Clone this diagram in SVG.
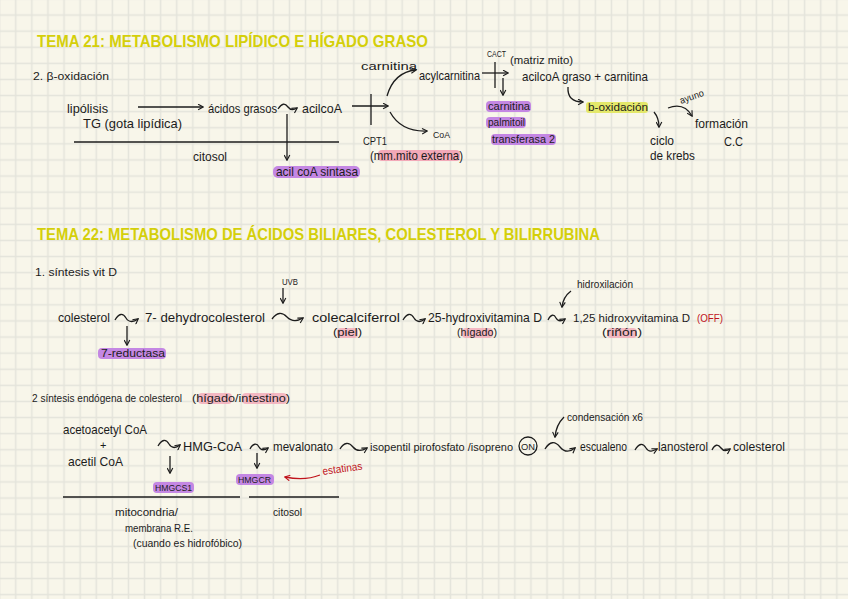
<svg xmlns="http://www.w3.org/2000/svg" width="848" height="599" viewBox="0 0 848 599">
<defs>
<pattern id="grid" x="7.7" y="7" width="16.1" height="16.1" patternUnits="userSpaceOnUse">
<rect x="7.3" y="0" width="1.5" height="16.1" fill="#e4e4db"/>
<rect x="0" y="7.3" width="16.1" height="1.5" fill="#e4e4db"/>
</pattern>
<marker id="ah" viewBox="0 0 10 10" refX="8" refY="5" markerWidth="7" markerHeight="7" markerUnits="userSpaceOnUse" orient="auto">
<path d="M1,1 L8.5,5 L1,9" fill="none" stroke="#1c1c1c" stroke-width="1.6"/>
</marker>
<marker id="ahr" viewBox="0 0 10 10" refX="8" refY="5" markerWidth="7" markerHeight="7" markerUnits="userSpaceOnUse" orient="auto">
<path d="M1,1 L8.5,5 L1,9" fill="none" stroke="#c0141c" stroke-width="1.6"/>
</marker>
</defs>
<style>
.t{font-family:"Liberation Sans",Arial,sans-serif;font-size:13px;fill:#1c1c1c}
.sm{font-size:11px}
.xs{font-size:9.5px}
.red{fill:#c0141c}
.title{font-family:"Liberation Sans",Arial,sans-serif;font-weight:bold;font-size:17px;fill:#d4cf0a}
.hp{fill:#c487e3}
.hk{fill:#f3a9b8}
.hy{fill:#e4e86a}
.ln{stroke:#1c1c1c;stroke-width:1.3;fill:none}
.lr{stroke:#c0141c;stroke-width:1.3;fill:none}
.a{marker-end:url(#ah)}
</style>
<rect width="848" height="599" fill="#f8f6ea"/>
<rect width="848" height="599" fill="url(#grid)"/>

<g id="titles">
<text class="title" x="37" y="47" textLength="391" lengthAdjust="spacingAndGlyphs">TEMA 21: METABOLISMO LIPÍDICO E HÍGADO GRASO</text>
<text class="title" x="37" y="240" textLength="563" lengthAdjust="spacingAndGlyphs">TEMA 22: METABOLISMO DE ÁCIDOS BILIARES, COLESTEROL Y BILIRRUBINA</text>
</g>

<g id="highlights">
<rect class="hp" x="273" y="166" width="87" height="12" rx="5"/>
<rect class="hk" x="378" y="150" width="82" height="11" rx="4"/>
<rect class="hp" x="486" y="101" width="45" height="11" rx="4"/>
<rect class="hp" x="486" y="117" width="40" height="11" rx="4"/>
<rect class="hp" x="491" y="134" width="65" height="11" rx="4"/>
<rect class="hy" x="586" y="102" width="62" height="11" rx="3"/>
<rect class="hp" x="98" y="348" width="68" height="11" rx="4"/>
<rect class="hk" x="337" y="328" width="21" height="10" rx="4" opacity="0.8"/>
<rect class="hk" x="462" y="328" width="31" height="10" rx="4" opacity="0.8"/>
<rect class="hk" x="607" y="328" width="30" height="10" rx="4" opacity="0.8"/>
<rect class="hk" x="198" y="393" width="34" height="11" rx="4" opacity="0.8"/>
<rect class="hk" x="242" y="393" width="45" height="11" rx="4" opacity="0.8"/>
<rect class="hp" x="153" y="482" width="41" height="11" rx="4"/>
<rect class="hp" x="236" y="474" width="38" height="11" rx="4"/>
</g>

<g id="connectors">
<path class="ln a" d="M138,107 L203,107"/>
<path class="ln a" d="M278,109 C282,103 285,103 288,107 S294,110 297,108"/>
<path class="ln a" d="M287,114 L287,160"/>
<path class="ln" d="M74,142 L339,142"/>
<path class="ln a" d="M352,106 L388,106"/>
<path class="ln" d="M371,94 L371,125"/>
<path class="ln a" d="M387,96 Q394,72 416,70"/>
<path class="ln a" d="M390,112 Q401,132 427,131"/>
<path class="ln a" d="M482,73 L508,73"/>
<path class="ln" d="M495,62 L495,88"/>
<path class="ln a" d="M503,78 L503,95"/>
<path class="ln a" d="M568,87 Q567,102 583,102"/>
<path class="ln a" d="M654,112 Q659,118 659,127"/>
<path class="ln a" d="M668,108 Q684,102 692,116"/>
<path class="ln a" d="M283,288 L283,303"/>
<path class="ln a" d="M115,320 C119,313 123,313 126,318 S134,322 138,319"/>
<path class="ln a" d="M127,326 L127,345"/>
<path class="ln a" d="M272,319 C277,312 282,312 287,317 S298,321 303,318"/>
<path class="ln a" d="M403,320 C407,313 411,313 414,318 S421,322 425,319"/>
<path class="ln a" d="M548,320 C551,314 554,314 556,318 S562,321 565,319"/>
<path class="ln a" d="M571,291 Q563,297 562,307"/>
<path class="ln a" d="M158,446 C162,439 166,439 169,444 S176,448 180,445"/>
<path class="ln a" d="M170,456 L170,473"/>
<path class="ln a" d="M250,449 C253,443 257,443 259,447 S265,450 268,448"/>
<path class="ln a" d="M257,453 L257,468"/>
<path class="lr" d="M320,475 Q305,481 285,477" marker-end="url(#ahr)"/>
<path class="ln a" d="M340,449 C344,442 349,442 353,447 S362,451 367,448"/>
<path class="ln a" d="M564,417 Q556,425 555,437"/>
<path class="ln a" d="M545,449 C550,441 555,441 560,447 S570,452 575,448"/>
<path class="ln a" d="M635,450 C639,443 643,443 646,448 S653,451 657,449"/>
<path class="ln a" d="M712,450 C715,444 718,444 721,448 S727,451 730,449"/>
<path class="ln" d="M63,497 L240,497"/>
<path class="ln" d="M249,497 L339,497"/>
<circle class="ln" cx="528" cy="446" r="9"/>
</g>

<g id="beta-oxidacion">
<text class="t sm" x="33" y="80" textLength="76" lengthAdjust="spacingAndGlyphs">2. β-oxidación</text>
<text class="t" x="67" y="113" textLength="41" lengthAdjust="spacingAndGlyphs">lipólisis</text>
<text class="t" x="83" y="128" textLength="99" lengthAdjust="spacingAndGlyphs">TG (gota lipídica)</text>
<text class="t" x="208" y="113" textLength="69" lengthAdjust="spacingAndGlyphs">ácidos grasos</text>
<text class="t" x="302" y="113" textLength="40" lengthAdjust="spacingAndGlyphs">acilcoA</text>
<text class="t" x="193" y="161" textLength="34" lengthAdjust="spacingAndGlyphs">citosol</text>
<text class="t" x="276" y="176" textLength="82" lengthAdjust="spacingAndGlyphs">acil coA sintasa</text>
<text class="t sm" x="363" y="145" textLength="24" lengthAdjust="spacingAndGlyphs">CPT1</text>
<text class="t" x="370" y="160" textLength="93" lengthAdjust="spacingAndGlyphs">(mm.mito externa)</text>
<text class="t sm" x="361" y="70" textLength="56" lengthAdjust="spacingAndGlyphs">carnitina</text>
<text class="t" x="419" y="80" textLength="61" lengthAdjust="spacingAndGlyphs">acylcarnitina</text>
<text class="t xs" x="433" y="138" textLength="17" lengthAdjust="spacingAndGlyphs">CoA</text>
<text class="t xs" x="487" y="57" textLength="19" lengthAdjust="spacingAndGlyphs">CACT</text>
<text class="t sm" x="510" y="64" textLength="63" lengthAdjust="spacingAndGlyphs">(matriz mito)</text>
<text class="t" x="522" y="81" textLength="126" lengthAdjust="spacingAndGlyphs">acilcoA graso + carnitina</text>
<text class="t sm" x="488" y="110" textLength="42" lengthAdjust="spacingAndGlyphs">carnitina</text>
<text class="t sm" x="488" y="126" textLength="37" lengthAdjust="spacingAndGlyphs">palmitoil</text>
<text class="t sm" x="492" y="143" textLength="63" lengthAdjust="spacingAndGlyphs">transferasa 2</text>
<text class="t sm" x="588" y="111" textLength="60" lengthAdjust="spacingAndGlyphs">b-oxidación</text>
<text class="t" x="650" y="145" textLength="24" lengthAdjust="spacingAndGlyphs">ciclo</text>
<text class="t" x="650" y="160" textLength="45" lengthAdjust="spacingAndGlyphs">de krebs</text>
<text class="t xs" x="681" y="104" textLength="25" lengthAdjust="spacingAndGlyphs" transform="rotate(-20 681 104)">ayuno</text>
<text class="t" x="695" y="128" textLength="53" lengthAdjust="spacingAndGlyphs">formación</text>
<text class="t" x="724" y="146" textLength="19" lengthAdjust="spacingAndGlyphs">C.C</text>
</g>

<g id="vitamina-d">
<text class="t sm" x="35" y="276" textLength="82" lengthAdjust="spacingAndGlyphs">1. síntesis  vit D</text>
<text class="t xs" x="282" y="285" textLength="16" lengthAdjust="spacingAndGlyphs">UVB</text>
<text class="t" x="58" y="322" textLength="52" lengthAdjust="spacingAndGlyphs">colesterol</text>
<text class="t" x="145" y="322" textLength="120" lengthAdjust="spacingAndGlyphs">7- dehydrocolesterol</text>
<text class="t sm" x="101" y="357" textLength="64" lengthAdjust="spacingAndGlyphs">7-reductasa</text>
<text class="t" x="312" y="322" textLength="88" lengthAdjust="spacingAndGlyphs">colecalciferrol</text>
<text class="t sm" x="333" y="336" textLength="29" lengthAdjust="spacingAndGlyphs">(piel)</text>
<text class="t" x="428" y="322" textLength="114" lengthAdjust="spacingAndGlyphs">25-hydroxivitamina D</text>
<text class="t sm" x="457" y="336" textLength="40" lengthAdjust="spacingAndGlyphs">(hígado)</text>
<text class="t sm" x="577" y="288" textLength="56" lengthAdjust="spacingAndGlyphs">hidroxilación</text>
<text class="t" x="573" y="322" textLength="117" lengthAdjust="spacingAndGlyphs" style="font-size:11px">1,25 hidroxyvitamina D</text>
<text class="t sm red" x="697" y="322" textLength="26" lengthAdjust="spacingAndGlyphs">(OFF)</text>
<text class="t sm" x="602" y="336" textLength="40" lengthAdjust="spacingAndGlyphs">(riñón)</text>
</g>

<g id="colesterol">
<text class="t sm" x="32" y="402" textLength="150" lengthAdjust="spacingAndGlyphs">2 síntesis endógena de colesterol</text>
<text class="t sm" x="192" y="402" textLength="98" lengthAdjust="spacingAndGlyphs">(hígado/intestino)</text>
<text class="t" x="63" y="434" textLength="84" lengthAdjust="spacingAndGlyphs">acetoacetyl CoA</text>
<text class="t sm" x="100" y="449">+</text>
<text class="t" x="68" y="466" textLength="55" lengthAdjust="spacingAndGlyphs">acetil CoA</text>
<text class="t" x="183" y="451" textLength="59" lengthAdjust="spacingAndGlyphs">HMG-CoA</text>
<text class="t xs" x="155" y="491" textLength="37" lengthAdjust="spacingAndGlyphs">HMGCS1</text>
<text class="t xs" x="238" y="483" textLength="33" lengthAdjust="spacingAndGlyphs">HMGCR</text>
<text class="t sm red" x="323" y="475" textLength="40" lengthAdjust="spacingAndGlyphs" transform="rotate(-8 323 475)">estatinas</text>
<text class="t" x="273" y="451" textLength="60" lengthAdjust="spacingAndGlyphs">mevalonato</text>
<text class="t" x="370" y="451" textLength="143" lengthAdjust="spacingAndGlyphs" style="font-size:11px">isopentil pirofosfato /isopreno</text>
<text class="t xs" x="521" y="449.5" textLength="14" lengthAdjust="spacingAndGlyphs">ON</text>
<text class="t sm" x="567" y="421" textLength="76" lengthAdjust="spacingAndGlyphs">condensación x6</text>
<text class="t" x="580" y="451" textLength="47" lengthAdjust="spacingAndGlyphs">escualeno</text>
<text class="t" x="658" y="451" textLength="50" lengthAdjust="spacingAndGlyphs">lanosterol</text>
<text class="t" x="733" y="451" textLength="52" lengthAdjust="spacingAndGlyphs">colesterol</text>
<text class="t sm" x="115" y="516" textLength="63" lengthAdjust="spacingAndGlyphs">mitocondria/</text>
<text class="t sm" x="125" y="532" textLength="68" lengthAdjust="spacingAndGlyphs">membrana R.E.</text>
<text class="t sm" x="133" y="547" textLength="109" lengthAdjust="spacingAndGlyphs">(cuando es hidrofóbico)</text>
<text class="t sm" x="273" y="516" textLength="29" lengthAdjust="spacingAndGlyphs">citosol</text>
</g>
</svg>
